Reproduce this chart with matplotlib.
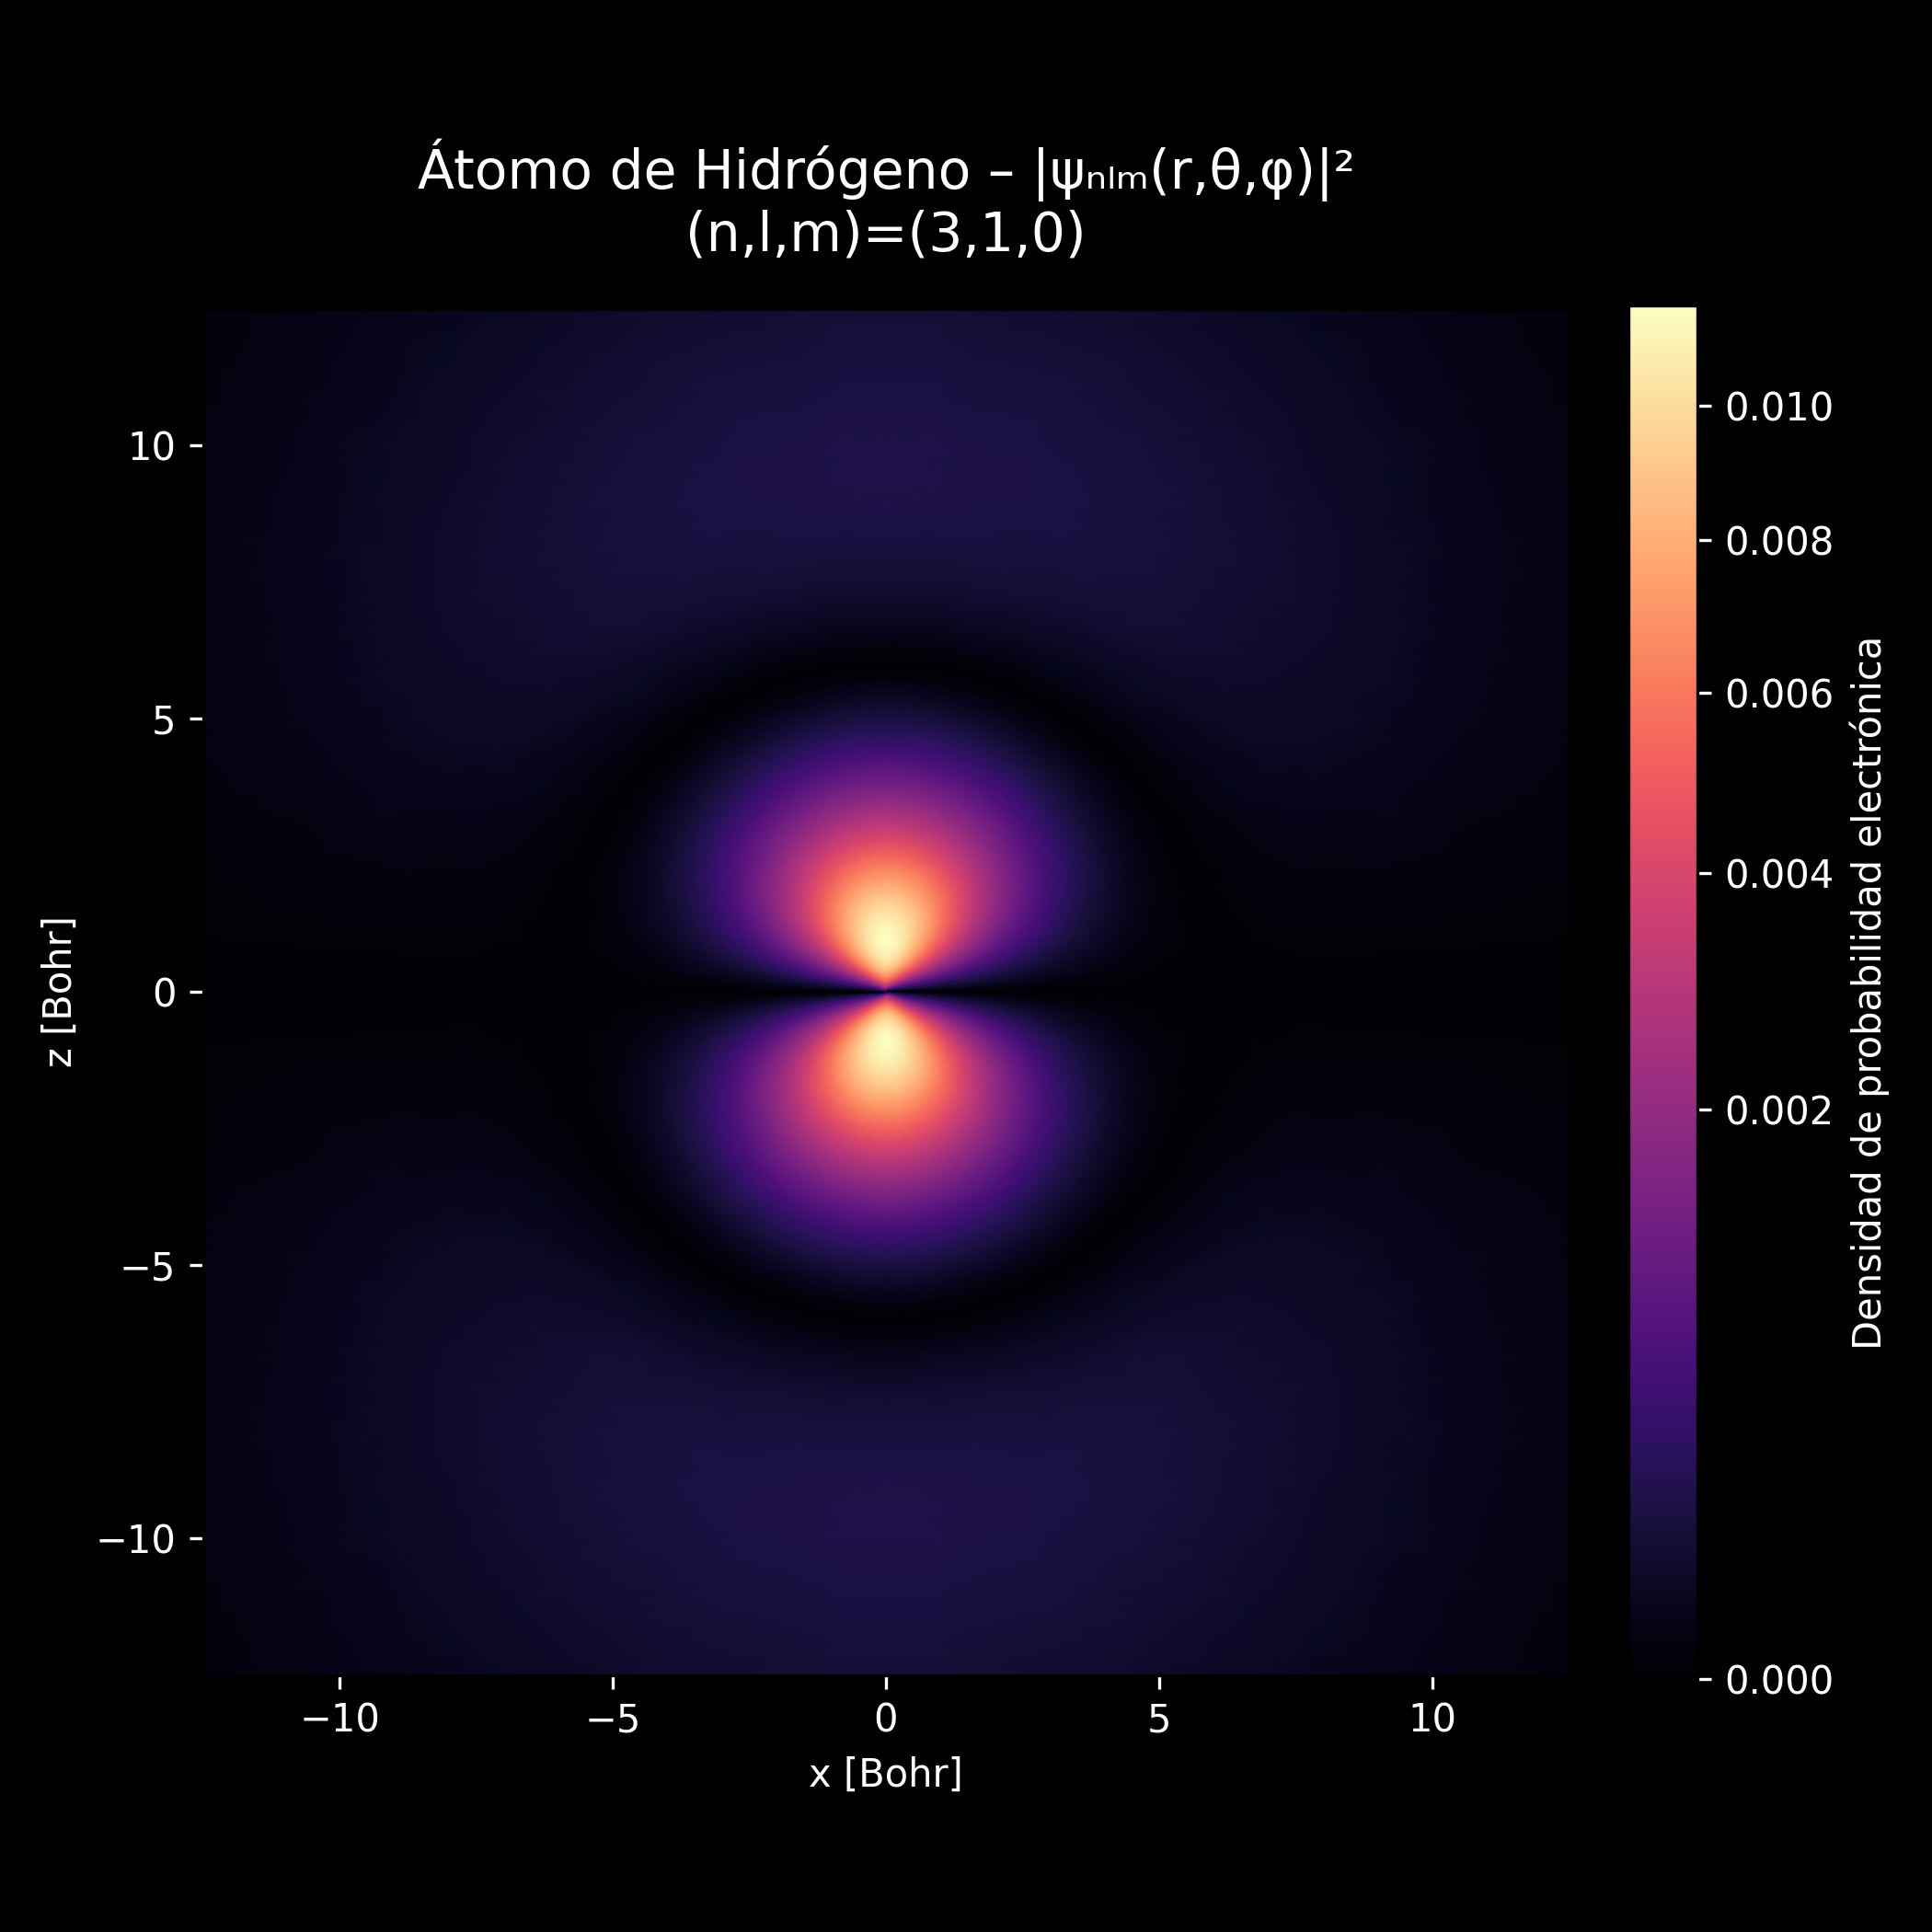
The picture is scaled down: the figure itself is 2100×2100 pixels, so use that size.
import numpy as np
import matplotlib
matplotlib.use("Agg")
import matplotlib.pyplot as plt
from matplotlib.colors import PowerNorm

# radial distance [Bohr] and density along the z axis
radius = [0, 0.05, 0.1, 0.2, 0.3, 0.4, 0.5, 0.6, 0.7, 0.8, 0.9, 1.0, 1.2, 1.4, 1.6, 1.8, 2.0,
          2.25, 2.5, 2.75, 3.0, 3.25, 3.5, 3.75, 4.0, 4.25, 4.5, 4.75, 5.0, 5.25, 5.5, 5.75,
          6.0, 6.25, 6.5, 6.75, 7.0, 7.5, 8.0, 8.5, 9.0, 9.5, 10.0, 10.5, 11.0, 12.0, 13.0,
          14.0, 15.0, 16.0, 17.0, 18.0]
axis_density = [0, 1.55, 2.95, 5.33, 7.22, 8.69, 9.81, 10.61, 11.16, 11.48, 11.63, 11.62, 11.24,
                10.54, 9.65, 8.66, 7.63, 6.39, 5.24, 4.20, 3.31, 2.55, 1.92, 1.41, 1.01, 0.692,
                0.456, 0.283, 0.161, 0.0807, 0.0318, 0.0070, 0, 0.0055, 0.0193, 0.0381, 0.0595,
                0.103, 0.140, 0.166, 0.182, 0.187, 0.184, 0.175, 0.163, 0.131, 0.099, 0.0717,
                0.050, 0.0337, 0.0222, 0.0144]  # units of 1e-3

# share of the axis density left at each polar angle, first quadrant
angle_deg = [0, 5, 10, 15, 20, 25, 30, 35, 40, 45, 50, 55, 60, 65, 70, 75, 80, 85, 87.5, 90]
angle_share = [1, 0.9924, 0.9698, 0.9330, 0.8830, 0.8214, 0.75, 0.6710, 0.5868, 0.5, 0.4132,
               0.3290, 0.25, 0.1786, 0.1170, 0.0670, 0.0302, 0.0076, 0.0019, 0]

vmax = 0.01163
cbar_ticks = [0, 0.002, 0.004, 0.006, 0.008, 0.010]
axis_ticks = [-10, -5, 0, 5, 10]

# the picture is mirror symmetric, so unfold the quadrant to the whole circle
a = np.array(angle_deg)
s = np.array(angle_share)
theta = np.radians(np.concatenate([a, 180 - a[::-1][1:], 180 + a[1:], 360 - a[::-1][1:]]))
share = np.concatenate([s, s[::-1][1:], s[1:], s[::-1][1:]])

r = np.array(radius)
R, T = np.meshgrid(r, theta)
X = R * np.sin(T)
Z = R * np.cos(T)
D = np.outer(share, np.array(axis_density)) * 1e-3

plt.style.use("dark_background")
W = 2100
fig = plt.figure(figsize=(7, 7), dpi=300, facecolor="black")
ax = fig.add_axes([220.5 / W, (W - 1820.5) / W, 1485 / W, 1485 / W])
cax = fig.add_axes([1770.2 / W, (W - 1825) / W, 75 / W, 1493 / W])

mesh = ax.pcolormesh(X, Z, D, shading="gouraud", cmap="magma",
                     norm=PowerNorm(gamma=0.5, vmin=0, vmax=vmax), rasterized=True)
ax.set_xlim(-12.5, 12.5)
ax.set_ylim(-12.5, 12.5)
ax.set_xticks(axis_ticks)
ax.set_yticks(axis_ticks)
ax.tick_params(labelsize=10)
ax.set_xlabel("x [Bohr]", fontsize=10)
ax.set_ylabel("z [Bohr]", fontsize=10)
ax.set_title("Átomo de Hidrógeno – |ψₙₗₘ(r,θ,φ)|²\n(n,l,m)=(3,1,0)", fontsize=14, pad=15)
for sp in ax.spines.values():
    sp.set_color("black")

cb = fig.colorbar(mesh, cax=cax)
cb.set_ticks(cbar_ticks)
cb.set_ticklabels(["%.3f" % t for t in cbar_ticks])
cb.ax.tick_params(labelsize=10)
cb.set_label("Densidad de probabilidad electrónica", fontsize=10)
cb.outline.set_edgecolor("black")

fig.savefig("out.png", dpi=300, facecolor="black")
